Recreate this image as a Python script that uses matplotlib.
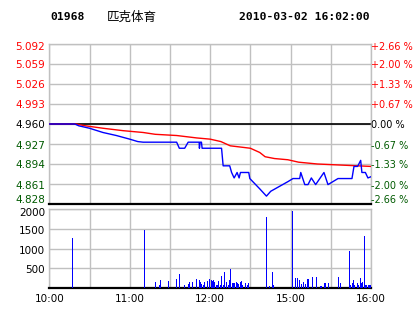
import matplotlib
matplotlib.use("Agg")
import matplotlib.pyplot as plt
from matplotlib.transforms import offset_copy

code = "01968"
name = "匹克体育"
stamp = "2010-03-02 16:02:00"

prev_close = 4.960
price_ticks = [4.828, 4.861, 4.894, 4.927, 4.960, 4.993, 5.026, 5.059, 5.092]
pct_labels = ["-2.66 %", "-2.00 %", "-1.33 %", "-0.67 %", "0.00 %", "+0.67 %", "+1.33 %", "+2.00 %", "+2.66 %"]
time_ticks = [0, 60, 120, 180, 240]
time_labels = ["10:00", "11:00", "12:00", "15:00", "16:00"]
vol_ticks = [500, 1000, 1500, 2000]

avg_min = [0, 20, 27, 40, 55, 70, 79, 95, 110, 120, 128, 135, 150, 157, 161, 168, 178, 186, 200, 220, 240]
avg_px = [4.960, 4.960, 4.957, 4.953, 4.949, 4.946, 4.943, 4.941, 4.937, 4.935, 4.931, 4.924, 4.920,
          4.913, 4.906, 4.903, 4.901, 4.897, 4.894, 4.892, 4.890]

px_min = [0, 19, 22, 30, 40, 50, 60, 66, 70, 95, 97, 101, 103.6, 111.8, 112, 112.5, 113.5, 114, 128.5,
          129.7, 134.6, 136, 137.9, 140.1, 141.6, 142.6, 148.8, 149.6, 157, 162, 165.2, 178.1, 181.8,
          186.8, 187.6, 190.6, 193, 195.5, 198.7, 204.9, 207.9, 215.4, 225.8, 227.3, 230, 232.3, 233.2,
          235.8, 237.7, 240]
px_val = [4.960, 4.960, 4.957, 4.953, 4.946, 4.941, 4.935, 4.931, 4.930, 4.930, 4.920, 4.920, 4.930,
          4.930, 4.920, 4.930, 4.930, 4.920, 4.920, 4.891, 4.891, 4.880, 4.871, 4.880, 4.871, 4.880,
          4.880, 4.870, 4.853, 4.841, 4.849, 4.865, 4.870, 4.870, 4.880, 4.860, 4.860, 4.871, 4.860,
          4.880, 4.860, 4.870, 4.870, 4.890, 4.890, 4.900, 4.880, 4.880, 4.871, 4.873]

vol_min = [17, 71, 79, 82, 83, 89, 95, 97, 101, 104, 104.5, 107, 110, 112, 112.6, 113.3, 115, 115.6,
           118, 119.3, 121, 121.6, 122.3, 123, 124.5, 125.3, 126, 127.5, 128.2, 129.7, 130.5, 132,
           133.5, 134.2, 135, 136.5, 137.2, 138, 139.5, 140.2, 141, 142.5, 143.2, 144, 146.2, 147.7,
           148.4, 161.7, 164, 166.2, 167, 181.7, 184, 184.8, 187, 187.8, 188.5, 190, 190.8, 193, 196,
           199, 199.7, 202.7, 205, 205.7, 208, 215.4, 217, 223.6, 224.4, 225.9, 226.6, 227.4, 229.6,
           230.4, 231.9, 232.6, 233.4, 234.9, 235.6, 236.4, 237.9, 238.6, 239.3]
vol_val = [1258, 1480, 150, 76, 194, 169, 228, 346, 76, 101, 152, 152, 228, 194, 143, 110, 76, 152,
           169, 228, 194, 169, 194, 152, 68, 68, 169, 76, 304, 76, 405, 152, 76, 194, 481, 127, 127,
           135, 152, 127, 110, 152, 169, 76, 127, 76, 127, 1789, 51, 405, 76, 1950, 253, 253, 203, 101,
           101, 152, 110, 228, 279, 228, 279, 51, 127, 127, 127, 279, 127, 937, 76, 127, 203, 76, 127,
           76, 253, 127, 152, 1317, 76, 76, 76, 76, 76]

W, H = 414, 314
fig = plt.figure(figsize=(W / 100, H / 100), dpi=100)
fig.patch.set_facecolor("white")

x0, x1 = 49.3, 371
ax = fig.add_axes([x0 / W, 1 - 204 / H, (x1 - x0) / W, 160 / H])
av = fig.add_axes([x0 / W, 1 - 288 / H, (x1 - x0) / W, 79 / H])

grid_c = "#c0c0c0"
red = "#ff0000"
green = "#005a00"
for a in (ax, av):
    a.set_xlim(0, 240)
    a.set_xticks(range(0, 241, 30))
    a.grid(True, color=grid_c, linewidth=1.0)
    a.set_axisbelow(True)
    for s in ("left", "top", "right"):
        a.spines[s].set_color(grid_c)
        a.spines[s].set_linewidth(1.0)
    a.spines["bottom"].set_color("black")
    a.spines["bottom"].set_linewidth(1.6)
    a.tick_params(length=0)

ax.set_ylim(price_ticks[0], price_ticks[-1])
ax.set_yticks(price_ticks)
ax.set_yticklabels([])
ax.set_xticklabels([])
ax.axhline(prev_close, color="black", linewidth=1.2, zorder=2)
ax.plot(avg_min, avg_px, color=red, linewidth=1.0, zorder=3)
ax.plot(px_min, px_val, color="#0000ff", linewidth=1.0, zorder=4)

fs = 7.5
n = len(price_ticks)
ytr = ax.get_yaxis_transform()
for i, (p, lab) in enumerate(zip(price_ticks, pct_labels)):
    c = red if p > prev_close + 1e-9 else ("black" if abs(p - prev_close) < 1e-9 else green)
    dy = 4.0 if i == 0 else (-2.7 if i == n - 1 else -1.5)
    trl = offset_copy(ytr, fig=fig, x=-4.3, y=dy, units="dots")
    trr = offset_copy(ytr, fig=fig, x=0.5, y=dy, units="dots")
    ax.text(0, p, f"{p:.3f}", transform=trl, ha="right", va="center", color=c, fontsize=fs)
    ax.text(1.0, p, lab, transform=trr, ha="left", va="center", color=c, fontsize=7.0)

av.set_ylim(0, 2000)
av.set_yticks(vol_ticks)
av.set_yticklabels([])
vtr = av.get_yaxis_transform()
for v in vol_ticks:
    dy = -3.5 if v == 2000 else -2.0
    tr = offset_copy(vtr, fig=fig, x=-4.3, y=dy, units="dots")
    av.text(0, v, str(v), transform=tr, ha="right", va="center", color="black", fontsize=fs)
av.bar(vol_min, vol_val, width=0.75, color="#0000ff", linewidth=0, zorder=3)
av.set_xticks(range(0, 241, 30))
av.set_xticklabels([time_labels[time_ticks.index(t)] if t in time_ticks else "" for t in range(0, 241, 30)],
                   fontsize=fs)
av.tick_params(axis="x", pad=4.5)

fig.text(50 / W, 1 - 17 / H, code, fontsize=8.2, fontweight="bold", family="DejaVu Sans Mono",
         ha="left", va="center")
fig.text(107 / W, 1 - 17 / H, name, fontsize=9, family=["Noto Sans CJK SC", "DejaVu Sans"],
         ha="left", va="center")
fig.text(370 / W, 1 - 17 / H, stamp, fontsize=8.2, fontweight="bold", family="DejaVu Sans Mono",
         ha="right", va="center")

fig.savefig("out.png", dpi=100)
